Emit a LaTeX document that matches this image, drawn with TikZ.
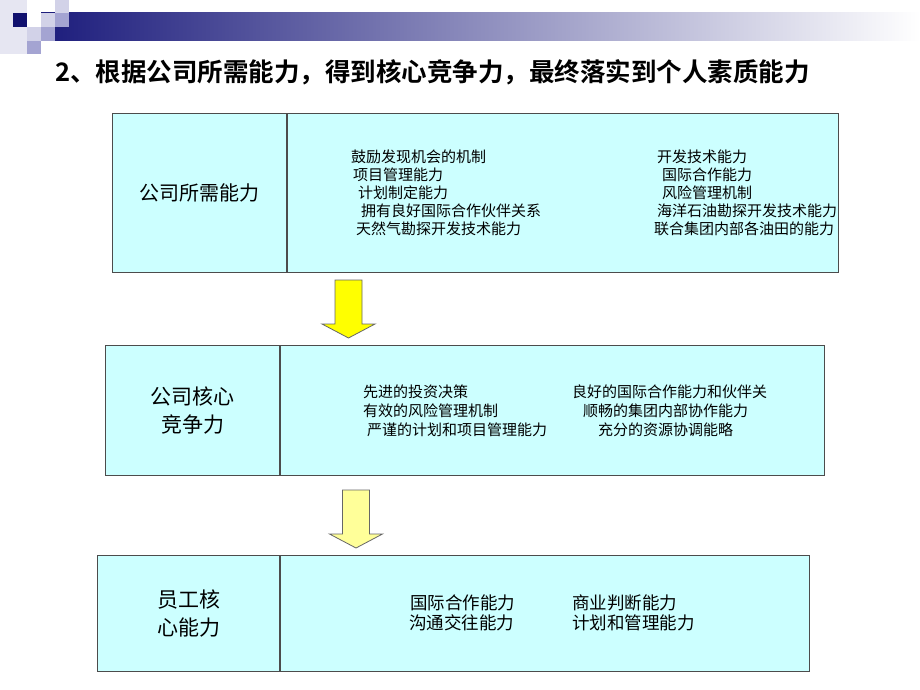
\documentclass[tikz,border=0pt]{standalone}
\usepackage{fontspec}
\newfontfamily\cjk[BoldFont={Noto Sans CJK SC Bold}]{Noto Sans CJK SC}
\usetikzlibrary{calc}

\definecolor{boxcyan}{HTML}{CCFFFF}
\definecolor{bandnavy}{HTML}{1C1C7C}
\definecolor{darknavy}{HTML}{10106E}
\definecolor{palelav}{HTML}{E6E6F2}
\definecolor{lightlav}{HTML}{D2D2E8}
\definecolor{midlav}{HTML}{A4A4D2}
\definecolor{brightyellow}{HTML}{FFFF00}
\definecolor{paleyellow}{HTML}{FFFF99}

\tikzset{
	cell/.style={draw=black!70, line width=1pt, fill=boxcyan, inner sep=0pt, anchor=north west, align=center},
	item/.style={anchor=west, inner sep=0pt, font=\cjk\fontsize{15}{18}\selectfont},
	bigitem/.style={anchor=west, inner sep=0pt, font=\cjk\fontsize{17.5}{20}\selectfont},
	pics/blockarrow/.style={code={
		\draw[draw=black!60, line width=0.8pt, fill=#1] (-13.5,0) -- (13.5,0) -- (13.5,44) -- (26.5,44) -- (0,58) -- (-26.5,44) -- (-13.5,44) -- cycle;
	}}
}

\begin{document}
\begin{tikzpicture}[x=1pt,y=-1pt]
	\useasboundingbox (0,0) rectangle (920,690);
	\fill[white] (0,0) rectangle (920,690);

	% banner
	\shade[left color=bandnavy, right color=white] (41,13) rectangle (920,41);
	\fill[palelav] (0,0) rectangle (27,54);
	\fill[darknavy] (13,13) rectangle (27,27);
	\fill[lightlav] (27,27) rectangle (41,41);
	\fill[midlav] (27,41) rectangle (41,54);
	\fill[lightlav] (41,13) rectangle (55,27);
	\fill[midlav] (41,27) rectangle (55,41);
	\fill[lightlav] (55,0) rectangle (69,13);
	\fill[midlav] (55,13) rectangle (69,27);

	\node[anchor=west, inner sep=0pt, font=\cjk\bfseries\fontsize{25.5}{30}\selectfont] (title) at (55,72) {2、根据公司所需能力，得到核心竞争力，最终落实到个人素质能力};

	% company needs
	\node[cell, minimum width=174pt, minimum height=159pt, font=\cjk\fontsize{20}{28}\selectfont] (needL) at (112,113) {公司所需能力};
	\node[cell, minimum width=551pt, minimum height=159pt] (needR) at (needL.north east) {};

	\node[item] (need1) at (351,157) {鼓励发现机会的机制};
	\node[item] (need2) at (353,175) {项目管理能力};
	\node[item] (need3) at (358,193) {计划制定能力};
	\node[item] (need4) at (361,211) {拥有良好国际合作伙伴关系};
	\node[item] (need5) at (356,229) {天然气勘探开发技术能力};
	\node[item] (need6) at (657,157) {开发技术能力};
	\node[item] (need7) at (662,175) {国际合作能力};
	\node[item] (need8) at (662,193) {风险管理机制};
	\node[item] (need9) at (657,211) {海洋石油勘探开发技术能力};
	\node[item] (need10) at (654,229) {联合集团内部各油田的能力};

	\pic at ($(needR.south west)+(61.5,7)$) {blockarrow=brightyellow};

	% core competence
	\node[cell, minimum width=174pt, minimum height=130pt, font=\cjk\fontsize{21}{28}\selectfont] (coreL) at (105,345) {公司核心\\竞争力};
	\node[cell, minimum width=544pt, minimum height=130pt] (coreR) at (coreL.north east) {};

	\node[item] (core1) at (363,392) {先进的投资决策};
	\node[item] (core2) at (363,411) {有效的风险管理机制};
	\node[item] (core3) at (367,430) {严谨的计划和项目管理能力};
	\node[item] (core4) at (572,392) {良好的国际合作能力和伙伴关};
	\node[item] (core5) at (583,411) {顺畅的集团内部协作能力};
	\node[item] (core6) at (598,430) {充分的资源协调能略};

	\pic at ($(coreR.south west)+(76,14)$) {blockarrow=paleyellow};

	% staff competence
	\node[cell, minimum width=182pt, minimum height=116pt, font=\cjk\fontsize{21}{28}\selectfont] (staffL) at (97,555) {员工核\\心能力};
	\node[cell, minimum width=529pt, minimum height=116pt] (staffR) at (staffL.north east) {};

	\node[bigitem] (staff1) at (410,603) {国际合作能力};
	\node[bigitem] (staff2) at (409,623) {沟通交往能力};
	\node[bigitem] (staff3) at (572,603) {商业判断能力};
	\node[bigitem] (staff4) at (572,623) {计划和管理能力};

\end{tikzpicture}
\end{document}
